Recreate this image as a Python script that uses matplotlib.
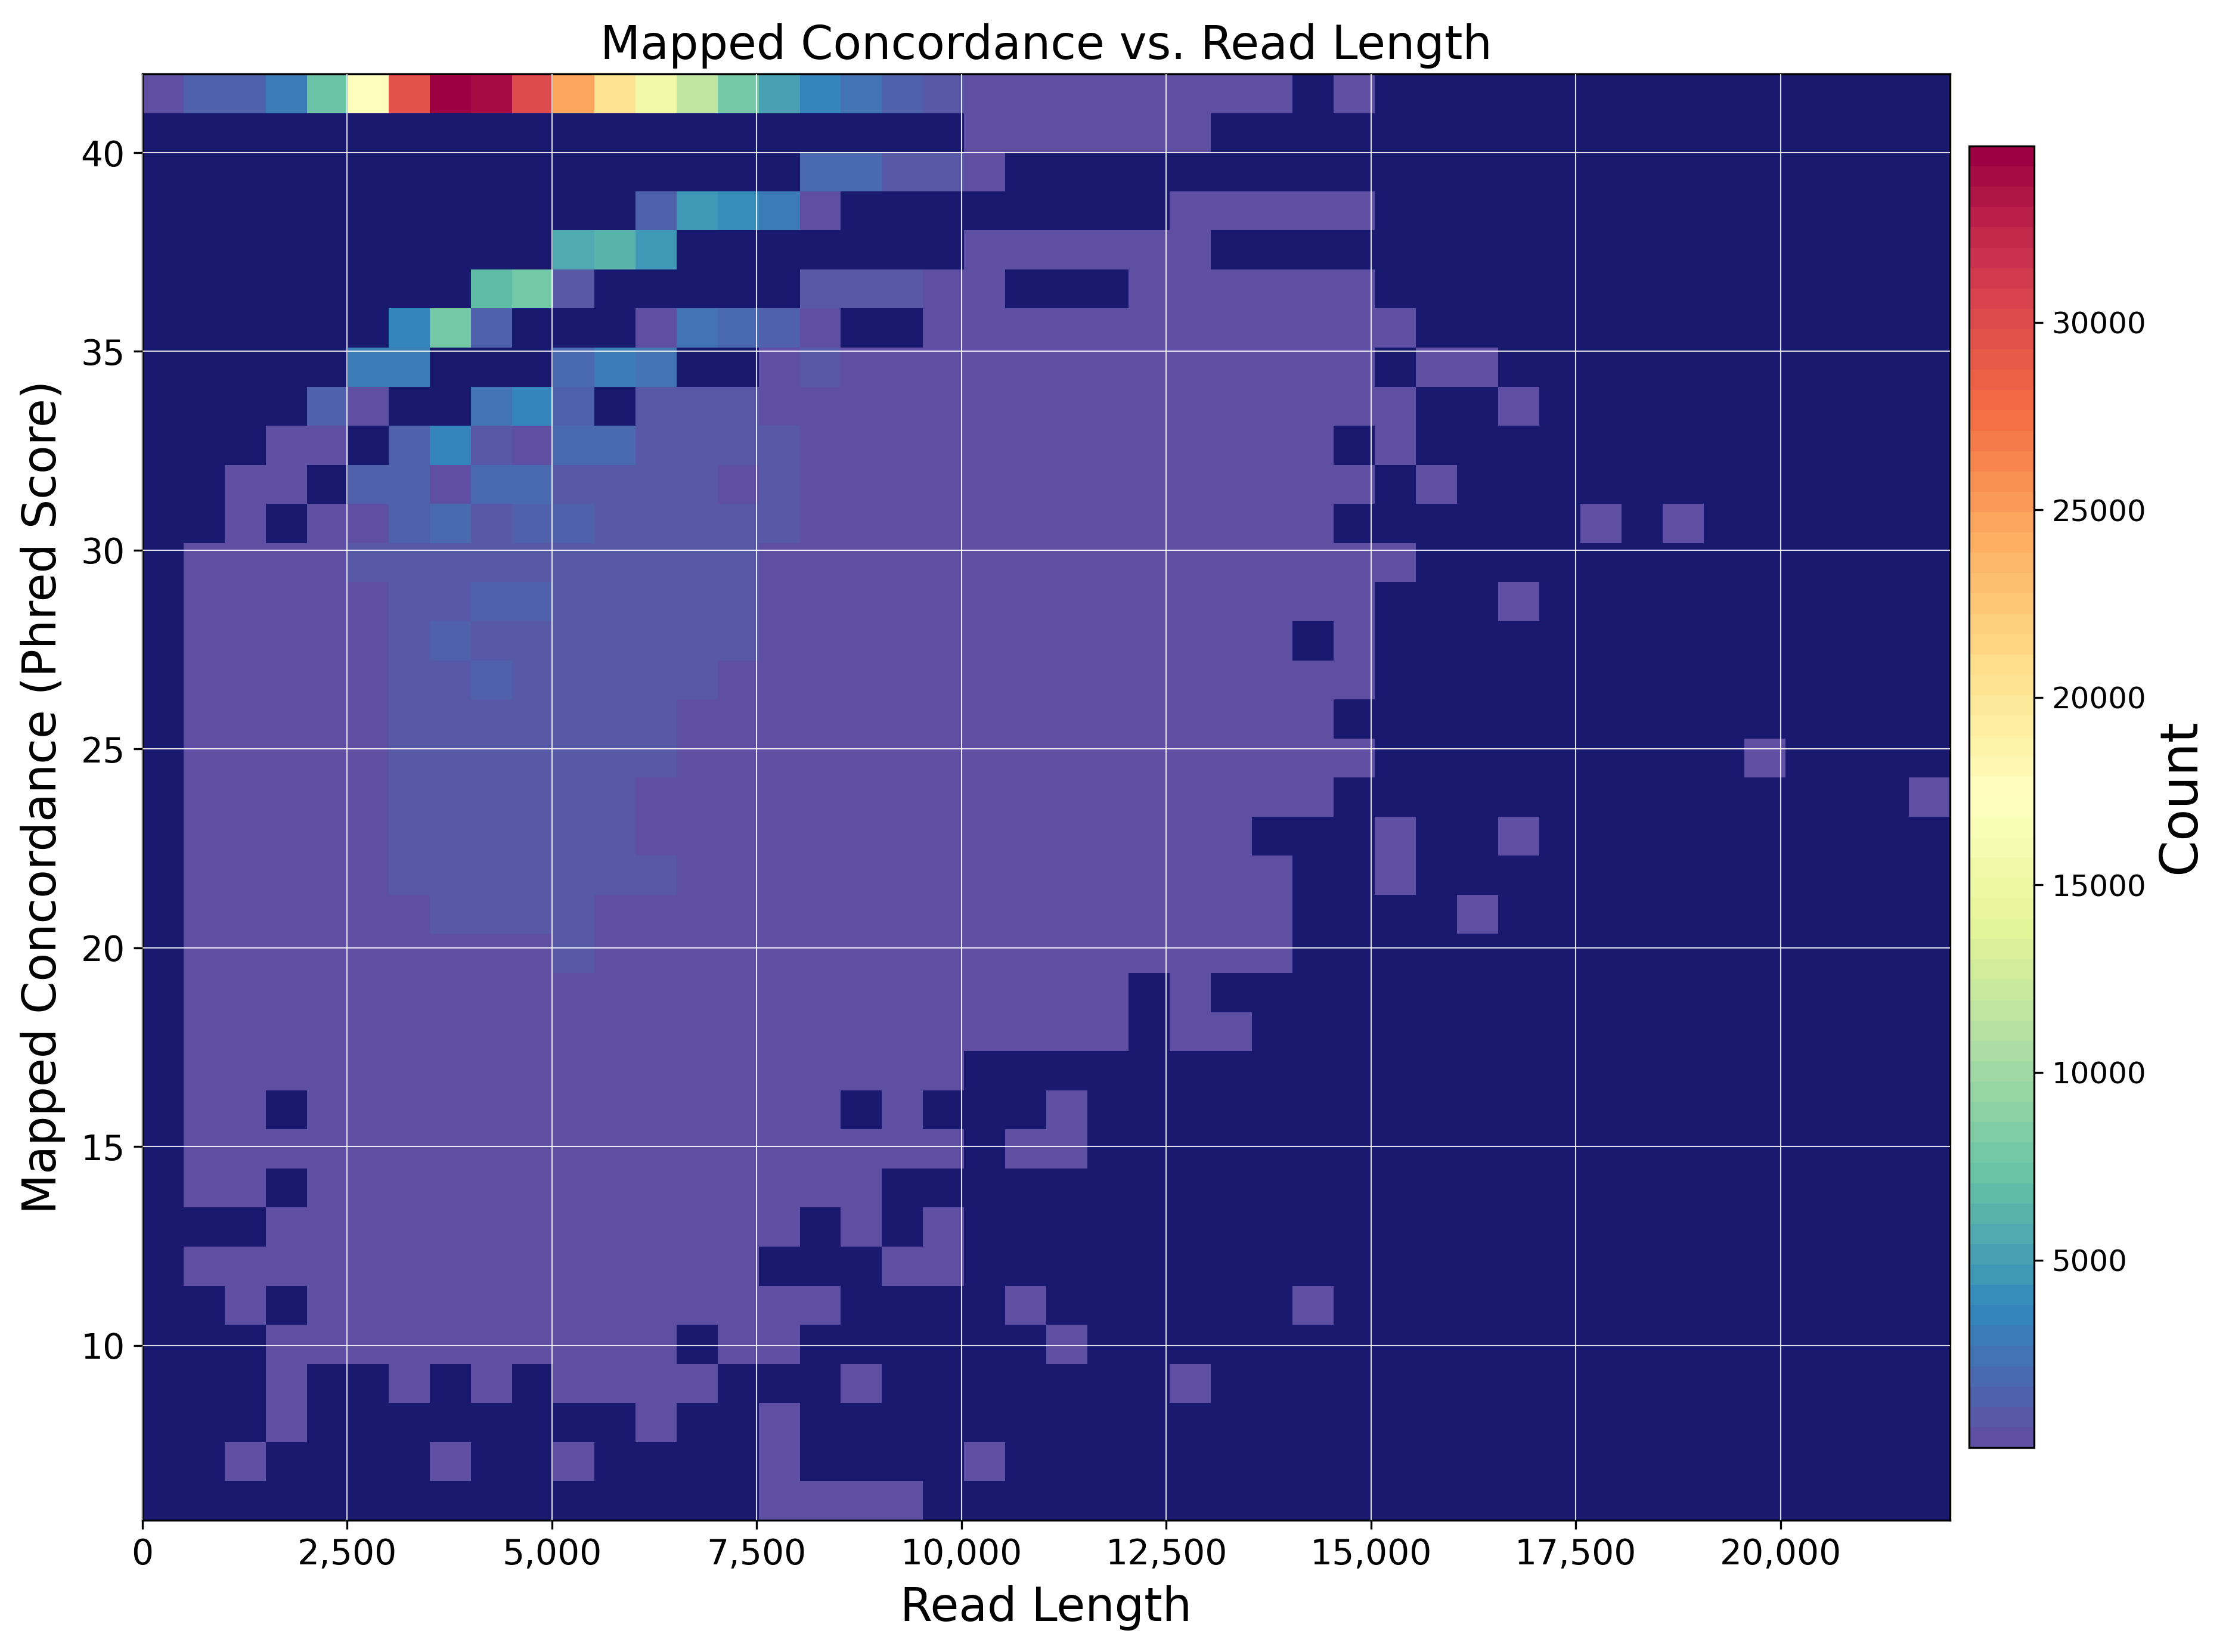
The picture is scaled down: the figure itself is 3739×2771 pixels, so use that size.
import numpy as np
import matplotlib
matplotlib.use("Agg")
import matplotlib.pyplot as plt
from matplotlib.ticker import FuncFormatter

X_MAX = 22070
Y_MIN = 5.6
Y_MAX = 41.98
COUNT_MAX = 34700

x_ticks = [0, 2500, 5000, 7500, 10000, 12500, 15000, 17500, 20000]
y_ticks = [10, 15, 20, 25, 30, 35, 40]
colorbar_ticks = [5000, 10000, 15000, 20000, 25000, 30000]

# counts per cell, first row is the top of the plot
counts = [
    [200,1200,1200,3000,7100,17350,29300,34700,33800,30000,24700,20500,15600,11600,7600,5200,3500,2400,1300,800,200,200,200,200,200,200,200,200,0,200,0,0,0,0,0,0,0,0,0,0,0,0,0,0],
    [0,0,0,0,0,0,0,0,0,0,0,0,0,0,0,0,0,0,0,0,200,200,200,200,200,200,0,0,0,0,0,0,0,0,0,0,0,0,0,0,0,0,0,0],
    [0,0,0,0,0,0,0,0,0,0,0,0,0,0,0,0,1900,1900,800,800,200,0,0,0,0,0,0,0,0,0,0,0,0,0,0,0,0,0,0,0,0,0,0,0],
    [0,0,0,0,0,0,0,0,0,0,0,0,1100,4500,4000,2900,300,0,0,0,0,0,0,0,0,200,200,200,200,200,0,0,0,0,0,0,0,0,0,0,0,0,0,0],
    [0,0,0,0,0,0,0,0,0,0,5600,6400,4600,0,0,0,0,0,0,0,200,200,200,200,200,200,0,0,0,0,0,0,0,0,0,0,0,0,0,0,0,0,0,0],
    [0,0,0,0,0,0,0,0,7000,7600,900,0,0,0,0,0,800,800,800,200,200,0,0,0,200,200,200,200,200,200,0,0,0,0,0,0,0,0,0,0,0,0,0,0],
    [0,0,0,0,0,0,3500,7600,1200,0,0,0,300,2500,1900,1200,300,0,0,200,200,200,200,200,200,200,200,200,200,200,200,0,0,0,0,0,0,0,0,0,0,0,0,0],
    [0,0,0,0,0,3100,3100,0,0,0,2000,3000,2600,0,0,300,800,200,200,200,200,200,200,200,200,200,200,200,200,200,0,200,200,0,0,0,0,0,0,0,0,0,0,0],
    [0,0,0,0,1400,300,0,0,2500,3600,1200,0,700,1000,700,200,200,200,200,200,200,200,200,200,200,200,200,200,200,200,200,0,0,200,0,0,0,0,0,0,0,0,0,0],
    [0,0,0,200,200,0,1100,3500,800,400,1900,1900,800,800,800,800,200,200,200,200,200,200,200,200,200,200,200,200,200,0,200,0,0,0,0,0,0,0,0,0,0,0,0,0],
    [0,0,200,200,0,1100,1100,400,1900,1900,700,1000,800,800,400,800,200,200,200,200,200,200,200,200,200,200,200,200,200,200,0,200,0,0,0,0,0,0,0,0,0,0,0,0],
    [0,0,200,0,200,400,1200,2000,800,1200,1200,800,800,800,800,900,200,200,200,200,200,200,200,200,200,200,200,200,200,0,0,0,0,0,0,200,0,200,0,0,0,0,0,0],
    [0,200,200,200,200,700,700,900,900,600,1000,700,700,700,700,200,200,200,200,200,200,200,200,200,200,200,200,200,200,200,200,0,0,0,0,0,0,0,0,0,0,0,0,0],
    [0,200,200,200,200,200,700,700,1100,1100,700,700,700,700,700,200,200,200,200,200,200,200,200,200,200,200,200,200,200,200,0,0,0,200,0,0,0,0,0,0,0,0,0,0],
    [0,200,200,200,200,200,700,1100,700,700,700,700,700,700,700,200,200,200,200,200,200,200,200,200,200,200,200,200,0,200,0,0,0,0,0,0,0,0,0,0,0,0,0,0],
    [0,200,200,200,200,200,700,700,1100,700,700,700,700,700,200,200,200,200,200,200,200,200,200,200,200,200,200,200,200,200,0,0,0,0,0,0,0,0,0,0,0,0,0,0],
    [0,200,200,200,200,200,700,700,700,700,700,700,700,200,200,200,200,200,200,200,200,200,200,200,200,200,200,200,200,0,0,0,0,0,0,0,0,0,0,0,0,0,0,0],
    [0,200,200,200,200,200,700,700,700,700,700,700,700,200,200,200,200,200,200,200,200,200,200,200,200,200,200,200,200,200,0,0,0,0,0,0,0,0,0,200,0,0,0,0],
    [0,200,200,200,200,200,700,700,700,700,700,700,200,200,200,200,200,200,200,200,200,200,200,200,200,200,200,200,200,0,0,0,0,0,0,0,0,0,0,0,0,0,0,200],
    [0,200,200,200,200,200,700,700,700,700,700,700,200,200,200,200,200,200,200,200,200,200,200,200,200,200,200,0,0,0,200,0,0,200,0,0,0,0,0,0,0,0,0,0],
    [0,200,200,200,200,200,700,700,700,700,700,700,700,200,200,200,200,200,200,200,200,200,200,200,200,200,200,200,0,0,200,0,0,0,0,0,0,0,0,0,0,0,0,0],
    [0,200,200,200,200,200,200,700,700,700,700,200,200,200,200,200,200,200,200,200,200,200,200,200,200,200,200,200,0,0,0,0,200,0,0,0,0,0,0,0,0,0,0,0],
    [0,200,200,200,200,200,200,200,200,200,700,200,200,200,200,200,200,200,200,200,200,200,200,200,200,200,200,200,0,0,0,0,0,0,0,0,0,0,0,0,0,0,0,0],
    [0,200,200,200,200,200,200,200,200,200,200,200,200,200,200,200,200,200,200,200,200,200,200,200,0,200,0,0,0,0,0,0,0,0,0,0,0,0,0,0,0,0,0,0],
    [0,200,200,200,200,200,200,200,200,200,200,200,200,200,200,200,200,200,200,200,200,200,200,200,0,200,200,0,0,0,0,0,0,0,0,0,0,0,0,0,0,0,0,0],
    [0,200,200,200,200,200,200,200,200,200,200,200,200,200,200,200,200,200,200,200,0,0,0,0,0,0,0,0,0,0,0,0,0,0,0,0,0,0,0,0,0,0,0,0],
    [0,200,200,0,200,200,200,200,200,200,200,200,200,200,200,200,200,0,200,0,0,0,200,0,0,0,0,0,0,0,0,0,0,0,0,0,0,0,0,0,0,0,0,0],
    [0,200,200,200,200,200,200,200,200,200,200,200,200,200,200,200,200,200,200,200,0,200,200,0,0,0,0,0,0,0,0,0,0,0,0,0,0,0,0,0,0,0,0,0],
    [0,200,200,0,200,200,200,200,200,200,200,200,200,200,200,200,200,200,0,0,0,0,0,0,0,0,0,0,0,0,0,0,0,0,0,0,0,0,0,0,0,0,0,0],
    [0,0,0,200,200,200,200,200,200,200,200,200,200,200,200,200,0,200,0,200,0,0,0,0,0,0,0,0,0,0,0,0,0,0,0,0,0,0,0,0,0,0,0,0],
    [0,200,200,200,200,200,200,200,200,200,200,200,200,200,200,0,0,0,200,200,0,0,0,0,0,0,0,0,0,0,0,0,0,0,0,0,0,0,0,0,0,0,0,0],
    [0,0,200,0,200,200,200,200,200,200,200,200,200,200,200,200,200,0,0,0,0,200,0,0,0,0,0,0,200,0,0,0,0,0,0,0,0,0,0,0,0,0,0,0],
    [0,0,0,200,200,200,200,200,200,200,200,200,200,0,200,200,0,0,0,0,0,0,200,0,0,0,0,0,0,0,0,0,0,0,0,0,0,0,0,0,0,0,0,0],
    [0,0,0,200,0,0,200,0,200,0,200,200,200,200,0,0,0,200,0,0,0,0,0,0,0,200,0,0,0,0,0,0,0,0,0,0,0,0,0,0,0,0,0,0],
    [0,0,0,200,0,0,0,0,0,0,0,0,200,0,0,200,0,0,0,0,0,0,0,0,0,0,0,0,0,0,0,0,0,0,0,0,0,0,0,0,0,0,0,0],
    [0,0,200,0,0,0,0,200,0,0,200,0,0,0,0,200,0,0,0,0,200,0,0,0,0,0,0,0,0,0,0,0,0,0,0,0,0,0,0,0,0,0,0,0],
    [0,0,0,0,0,0,0,0,0,0,0,0,0,0,0,200,200,200,200,0,0,0,0,0,0,0,0,0,0,0,0,0,0,0,0,0,0,0,0,0,0,0,0,0],
]


def plot():
    W, H = 3739, 2771
    fig = plt.figure(figsize=(W / 300, H / 300), dpi=300)
    ax = fig.add_axes([239 / W, 1 - 2550 / H, (3271 - 239) / W, (2550 - 124) / H])

    data = np.array(counts, dtype=float)[::-1]
    x_edges = np.linspace(0, X_MAX, data.shape[1] + 1)
    y_edges = np.linspace(Y_MIN, Y_MAX, data.shape[0] + 1)

    cmap = plt.get_cmap('Spectral_r', 64).copy()
    ax.set_facecolor('midnightblue')
    mesh = ax.pcolormesh(x_edges, y_edges, np.ma.masked_equal(data, 0),
                         cmap=cmap, vmin=1, vmax=COUNT_MAX)

    ax.grid(True, color='white', linewidth=0.5, alpha=0.85)
    ax.set_axisbelow(False)

    ax.set_xlim(0, X_MAX)
    ax.set_ylim(Y_MIN, Y_MAX)
    ax.set_xticks(x_ticks)
    ax.set_yticks(y_ticks)
    ax.xaxis.set_major_formatter(FuncFormatter(lambda v, p: f'{int(v):,}'))
    ax.tick_params(labelsize=14)

    ax.set_title('Mapped Concordance vs. Read Length', fontsize=18.7, pad=6)
    ax.set_xlabel('Read Length', fontsize=18.7, labelpad=5.5)
    ax.set_ylabel('Mapped Concordance (Phred Score)', fontsize=18.7, labelpad=6)

    cax = fig.add_axes([3303 / W, 1 - 2428 / H, (3412 - 3303) / W, (2428 - 245) / H])
    cbar = fig.colorbar(mesh, cax=cax)
    cbar.set_ticks(colorbar_ticks)
    cbar.ax.tick_params(labelsize=12)
    cbar.set_label('Count', fontsize=21)

    fig.savefig('out.png', dpi=300)


if __name__ == '__main__':
    plot()
